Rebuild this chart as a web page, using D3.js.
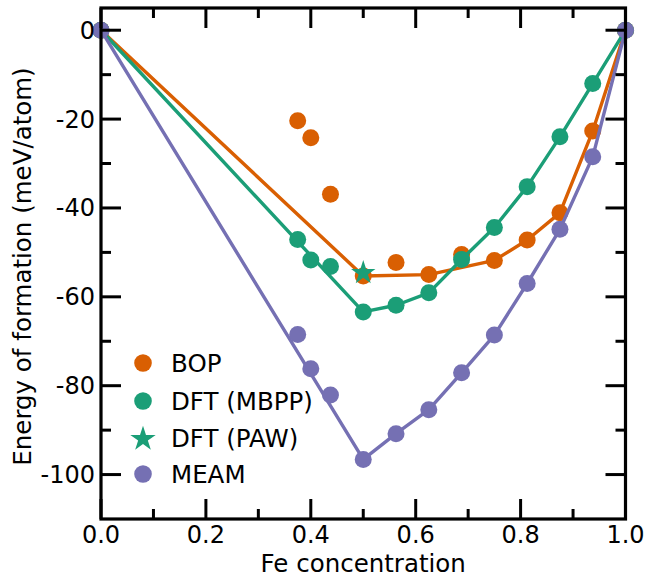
<!DOCTYPE html>
<html>
<head>
<meta charset="utf-8">
<script src="https://cdn.jsdelivr.net/npm/d3@7"></script>
<style>
  html, body { margin: 0; padding: 0; background: #fff; }
  text { font-family: "DejaVu Sans", sans-serif; fill: #000; }
</style>
</head>
<body>
<svg id="chart" width="646" height="576"></svg>
<script>
// ---------- data ----------
const bopX = [0, 0.375, 0.4, 0.4375, 0.5, 0.5625, 0.625, 0.6875, 0.75, 0.8125, 0.875, 0.9375, 1];
const bopY = [0, -20.4, -24.2, -36.9, -55.3, -52.3, -55.0, -50.5, -51.8, -47.2, -41.1, -22.7, 0];
const bopHullX = [0, 0.5, 0.625, 0.75, 0.8125, 0.875, 0.9375, 1];
const bopHullY = [0, -55.3, -55.0, -51.8, -47.2, -41.1, -22.7, 0];

const dftX = [0, 0.375, 0.4, 0.4375, 0.5, 0.5625, 0.625, 0.6875, 0.75, 0.8125, 0.875, 0.9375, 1];
const dftY = [0, -47.1, -51.7, -53.2, -63.4, -61.9, -59.1, -51.6, -44.4, -35.2, -24.0, -12.0, 0];
const dftHullX = [0, 0.5, 0.5625, 0.625, 0.6875, 0.75, 0.8125, 0.875, 0.9375, 1];
const dftHullY = [0, -63.4, -61.9, -59.1, -51.6, -44.4, -35.2, -24.0, -12.0, 0];

const pawX = [0.5];
const pawY = [-54.4];

const meamX = [0, 0.375, 0.4, 0.4375, 0.5, 0.5625, 0.625, 0.6875, 0.75, 0.8125, 0.875, 0.9375, 1];
const meamY = [0, -68.5, -76.2, -82.1, -96.6, -90.8, -85.4, -77.1, -68.6, -57.0, -44.8, -28.5, 0];
const meamHullX = [0, 0.5, 0.5625, 0.625, 0.6875, 0.75, 0.8125, 0.875, 0.9375, 1];
const meamHullY = [0, -96.6, -90.8, -85.4, -77.1, -68.6, -57.0, -44.8, -28.5, 0];

const xTicks = [0, 0.2, 0.4, 0.6, 0.8, 1.0];
const xTickLabels = ["0.0", "0.2", "0.4", "0.6", "0.8", "1.0"];
const xMinor = [0.1, 0.3, 0.5, 0.7, 0.9];
const yTicks = [0, -20, -40, -60, -80, -100];
const yTickLabels = ["0", "-20", "-40", "-60", "-80", "-100"];
const yMinor = [-10, -30, -50, -70, -90];

const legendLabels = ["BOP", "DFT (MBPP)", "DFT (PAW)", "MEAM"];
const colors = { bop: "#d95f02", dft: "#1b9e77", meam: "#7570b3" };

// ---------- layout ----------
const L = 101, R = 625.5, T = 8, B = 519;
const svg = d3.select("#chart");
const x = d3.scaleLinear().domain([0, 1]).range([L, R]);
const y = d3.scaleLinear().domain([-110, 5]).range([B, T]);

const plot = svg.append("g");
svg.append("clipPath").attr("id", "clip").append("rect")
  .attr("x", L - 12).attr("y", T - 12).attr("width", R - L + 24).attr("height", B - T + 24);
plot.attr("clip-path", "url(#clip)");

const line = d3.line().x(d => x(d[0])).y(d => y(d[1]));
const zip = (a, b) => a.map((v, i) => [v, b[i]]);
const R_DOT = 8.5;
const star = d3.symbol().type(d3.symbolStar).size(185);

function drawSeries(hx, hy, px, py, col) {
  plot.append("path").datum(zip(hx, hy)).attr("d", line)
    .attr("fill", "none").attr("stroke", col).attr("stroke-width", 3.4)
    .attr("stroke-linejoin", "round");
  plot.append("g").selectAll("circle").data(zip(px, py)).join("circle")
    .attr("cx", d => x(d[0])).attr("cy", d => y(d[1])).attr("r", R_DOT)
    .attr("fill", col);
}
drawSeries(bopHullX, bopHullY, bopX, bopY, colors.bop);
drawSeries(dftHullX, dftHullY, dftX, dftY, colors.dft);
plot.append("g").selectAll("path").data(zip(pawX, pawY)).join("path")
  .attr("d", star).attr("transform", d => `translate(${x(d[0])},${y(d[1]) + 1})`)
  .attr("fill", colors.dft);
drawSeries(meamHullX, meamHullY, meamX, meamY, colors.meam);

// ---------- axes (ticks inward on all sides) ----------
const axG = svg.append("g");
function tickLines(vals, len, isX) {
  vals.forEach(v => {
    if (isX) {
      const px = x(v);
      axG.append("line").attr("x1", px).attr("x2", px).attr("y1", B).attr("y2", B - len);
      axG.append("line").attr("x1", px).attr("x2", px).attr("y1", T).attr("y2", T + len);
    } else {
      const py = y(v);
      axG.append("line").attr("y1", py).attr("y2", py).attr("x1", L).attr("x2", L + len);
      axG.append("line").attr("y1", py).attr("y2", py).attr("x1", R).attr("x2", R - len);
    }
  });
}
tickLines(xTicks, 20, true);
tickLines(xMinor, 10, true);
tickLines(yTicks, 20, false);
tickLines(yMinor, 10, false);
axG.selectAll("line").attr("stroke", "#000").attr("stroke-width", 3);

svg.append("rect").attr("x", L).attr("y", T).attr("width", R - L).attr("height", B - T)
  .attr("fill", "none").attr("stroke", "#000").attr("stroke-width", 3.2);

svg.append("g").selectAll("text").data(xTicks).join("text")
  .attr("x", d => x(d)).attr("y", 543).attr("text-anchor", "middle")
  .attr("font-size", 24).text((d, i) => xTickLabels[i]);
svg.append("g").selectAll("text").data(yTicks).join("text")
  .attr("x", 95).attr("y", d => y(d) + 8.5).attr("text-anchor", "end")
  .attr("font-size", 24).text((d, i) => yTickLabels[i]);

svg.append("text").attr("x", (L + R) / 2).attr("y", 571.5).attr("text-anchor", "middle")
  .attr("font-size", 24.5).text("Fe concentration");
svg.append("text").attr("transform", `translate(31,${(T + B) / 2 + 3}) rotate(-90)`)
  .attr("text-anchor", "middle").attr("font-size", 24.5).text("Energy of formation (meV/atom)");

// ---------- legend ----------
const lg = svg.append("g");
const legY = [363, 401, 438, 474];
const legCol = [colors.bop, colors.dft, colors.dft, colors.meam];
legendLabels.forEach((lab, i) => {
  if (i === 2) {
    lg.append("path").attr("d", d3.symbol().type(d3.symbolStar).size(200)())
      .attr("transform", `translate(143,${legY[i] + 1})`).attr("fill", legCol[i]);
  } else {
    lg.append("circle").attr("cx", 143).attr("cy", legY[i]).attr("r", 8.8).attr("fill", legCol[i]);
  }
  lg.append("text").attr("x", 171).attr("y", legY[i] + 8.5).attr("font-size", 24.5).text(lab);
});
</script>
</body>
</html>
